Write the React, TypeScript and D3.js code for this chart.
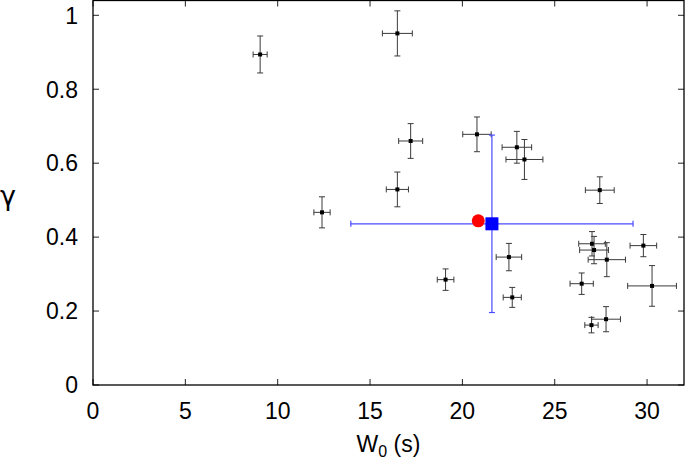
import React from "react";
import * as d3 from "d3";

const w0 = [9.05, 16.48, 17.2, 20.79, 22.95, 23.36, 16.48, 12.4, 27.44, 22.52, 19.09, 22.7, 27.02, 27.13, 27.82, 29.8, 30.27, 26.46, 26.99, 27.78];
const gamma = [0.894, 0.951, 0.66, 0.678, 0.643, 0.61, 0.529, 0.467, 0.527, 0.346, 0.285, 0.237, 0.382, 0.365, 0.339, 0.377, 0.268, 0.274, 0.162, 0.178];
const w0Err = [0.38, 0.81, 0.65, 0.77, 0.8, 1.0, 0.6, 0.44, 0.78, 0.69, 0.45, 0.49, 0.72, 0.78, 1.01, 0.72, 1.32, 0.63, 0.36, 0.78];
const gammaErr = [0.05, 0.061, 0.047, 0.047, 0.043, 0.054, 0.047, 0.042, 0.036, 0.037, 0.029, 0.027, 0.033, 0.037, 0.046, 0.03, 0.055, 0.029, 0.021, 0.034];

const redPoint = { w0: 20.86, gamma: 0.444 };
const bluePoint = { w0: 21.6, gamma: 0.436, w0Err: 7.64, gammaErr: 0.24 };

const xTicks = [0, 5, 10, 15, 20, 25, 30];
const yTicks = [0, 0.2, 0.4, 0.6, 0.8, 1];

export default function App() {
  const W = 685, H = 461;
  const left = 93, right = 684, top = 0.5, bottom = 385;
  const x = d3.scaleLinear().domain([0, 32]).range([left, right]);
  const y = d3.scaleLinear().domain([0, 1.04]).range([bottom, top]);
  const font = "'Liberation Sans', Arial, Helvetica, sans-serif";
  const tl = 6;
  const cap = 3;
  const errColor = "#3a3a3a";

  return (
    <svg width={W} height={H} style={{ position: "absolute", left: 0, top: 0 }} fontFamily={font}>
      <rect width={W} height={H} fill="white" />
      {xTicks.map((t) => (
        <g key={"xt" + t}>
          <line x1={x(t)} x2={x(t)} y1={bottom} y2={bottom - tl} stroke="#222" />
          <line x1={x(t)} x2={x(t)} y1={top} y2={top + tl} stroke="#222" />
          <text x={x(t)} y={418.5} fontSize={23} textAnchor="middle" fill="#000">{t}</text>
        </g>
      ))}
      {yTicks.map((t) => (
        <g key={"yt" + t}>
          <line x1={left} x2={left + tl} y1={y(t)} y2={y(t)} stroke="#222" />
          <line x1={right} x2={right - tl} y1={y(t)} y2={y(t)} stroke="#222" />
          <text x={78} y={y(t) + 8.3} fontSize={23} textAnchor="end" fill="#000">{t === 0 || t === 1 ? String(t) : t.toFixed(1)}</text>
        </g>
      ))}
      {w0.map((v, i) => {
        const cx = x(v), cy = y(gamma[i]);
        const x0 = x(v - w0Err[i]), x1 = x(v + w0Err[i]);
        const y0 = y(gamma[i] - gammaErr[i]), y1 = y(gamma[i] + gammaErr[i]);
        return (
          <g key={"p" + i} stroke={errColor} strokeWidth={1}>
            <line x1={x0} x2={x1} y1={cy} y2={cy} />
            <line x1={x0} x2={x0} y1={cy - cap} y2={cy + cap} />
            <line x1={x1} x2={x1} y1={cy - cap} y2={cy + cap} />
            <line x1={cx} x2={cx} y1={y0} y2={y1} />
            <line x1={cx - cap} x2={cx + cap} y1={y0} y2={y0} />
            <line x1={cx - cap} x2={cx + cap} y1={y1} y2={y1} />
            <rect x={cx - 2} y={cy - 2} width={4} height={4} fill="#000" stroke="none" />
          </g>
        );
      })}
      {(() => {
        const cx = x(bluePoint.w0), cy = y(bluePoint.gamma);
        const x0 = x(bluePoint.w0 - bluePoint.w0Err), x1 = x(bluePoint.w0 + bluePoint.w0Err);
        const y0 = y(bluePoint.gamma - bluePoint.gammaErr), y1 = y(bluePoint.gamma + bluePoint.gammaErr);
        return (
          <g stroke="#4a4aff" strokeWidth={1.2}>
            <line x1={x0} x2={x1} y1={cy} y2={cy} />
            <line x1={x0} x2={x0} y1={cy - cap} y2={cy + cap} />
            <line x1={x1} x2={x1} y1={cy - cap} y2={cy + cap} />
            <line x1={cx} x2={cx} y1={y0} y2={y1} />
            <line x1={cx - cap} x2={cx + cap} y1={y0} y2={y0} />
            <line x1={cx - cap} x2={cx + cap} y1={y1} y2={y1} />
          </g>
        );
      })()}
      <circle cx={x(redPoint.w0)} cy={y(redPoint.gamma)} r={6.5} fill="#ff0000" />
      <rect x={x(bluePoint.w0) - 6.5} y={y(bluePoint.gamma) - 6.5} width={13} height={13} fill="#0000ff" />
      <rect x={left} y={top} width={right - left} height={bottom - top} fill="none" stroke="#000" strokeWidth={1.3} />
      <text x={388.5} y={452} fontSize={23} textAnchor="middle" fill="#000">
        W<tspan dy={5} fontSize={16}>0</tspan><tspan dy={-5}> (s)</tspan>
      </text>
      <text x={0} y={205} fontSize={27} fill="#000" fontFamily="'DejaVu Sans', sans-serif">γ</text>
    </svg>
  );
}
